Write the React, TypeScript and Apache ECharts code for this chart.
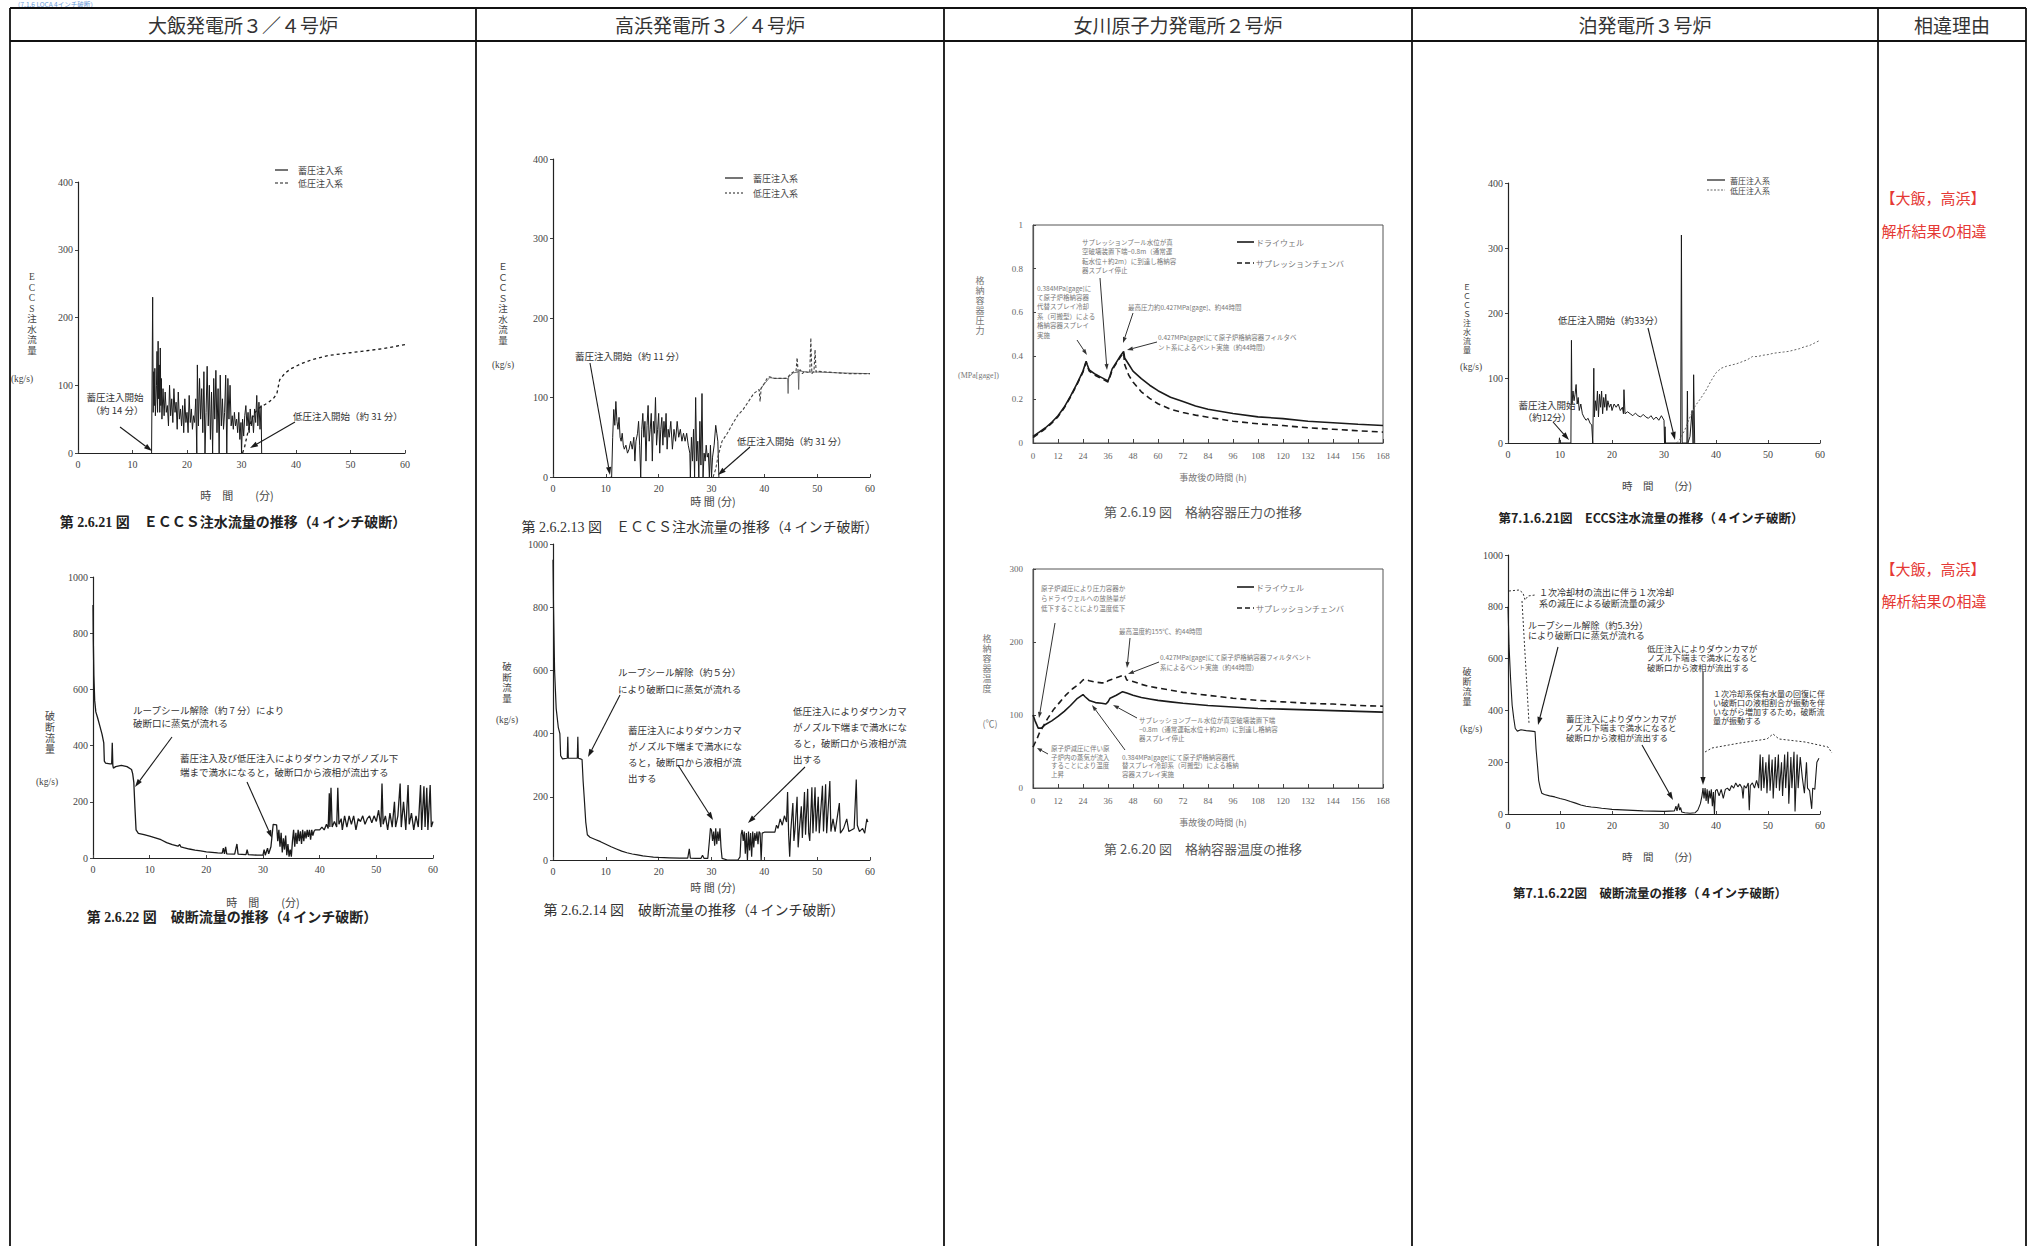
import React, { useEffect, useRef } from "react";
import * as echarts from "echarts";

// ---------- headers / texts ----------
const plantHeaders = ["大飯発電所３／４号炉", "高浜発電所３／４号炉", "女川原子力発電所２号炉", "泊発電所３号炉", "相違理由"];
const reasonTitle = "【大飯，高浜】";
const reasonText = "解析結果の相違";
const pageNote = "（7.1.6 LOCA 4インチ破断）";

// ---------- axis ranges ----------
const minuteTicks = { min: 0, max: 60, interval: 10 };
const eccsTicks = { min: 0, max: 400, interval: 100 };
const breakTicks = { min: 0, max: 1000, interval: 200 };
const hourTicks = { min: 0, max: 168, interval: 12 };
const pressureTicks = { min: 0, max: 1, interval: 0.2 };
const tempTicks = { min: 0, max: 300, interval: 100 };

// ---------- Ohi ECCS (min, kg/s) ----------
const ohiEccsAccumulator: [number, number][] = [
  [13.5, 0], [13.6, 0], [13.7, 230], [13.8, 60], [13.9, 120], [14.0, 70], [14.1, 125], [14.2, 55], [14.4, 100], [14.5, 150], [14.6, 60], [14.7, 165], [14.8, 80], [14.9, 130], [15.0, 60], [15.1, 155], [15.2, 70], [15.3, 110], [15.4, 50], [15.6, 95], [15.8, 55], [16.0, 90], [16.2, 60], [16.4, 70], [16.6, 40], [16.8, 100], [17.0, 55], [17.2, 80], [17.4, 45], [17.6, 95], [17.8, 60], [18.0, 75], [18.2, 35], [18.4, 90], [18.6, 50], [18.8, 65], [19.0, 40], [19.2, 70], [19.4, 30], [19.6, 80], [19.8, 45], [20.0, 60], [20.2, 30], [20.4, 85], [20.6, 45], [20.8, 65], [21.0, 35], [21.2, 55], [21.4, 45], [21.6, 80], [21.8, 0], [21.9, 130], [22.1, 40], [22.3, 110], [22.5, 50], [22.7, 95], [22.9, 30], [23.1, 120], [23.3, 0], [23.5, 60], [23.7, 128], [23.9, 40], [24.1, 100], [24.3, 20], [24.5, 90], [24.7, 0], [24.9, 110], [25.1, 50], [25.3, 122], [25.5, 30], [25.7, 95], [25.9, 0], [26.1, 115], [26.3, 40], [26.5, 80], [26.7, 35], [26.9, 60], [27.1, 115], [27.3, 0], [27.5, 110], [27.7, 50], [27.9, 100], [28.1, 40], [28.3, 55], [28.5, 35], [28.7, 60], [28.9, 40], [29.1, 50], [29.3, 30], [29.5, 60], [29.7, 20], [29.9, 45], [30.0, 0], [30.2, 50], [30.4, 25], [30.6, 55], [30.8, 70], [31.0, 40], [31.2, 60], [31.4, 30], [31.6, 65], [31.8, 40], [32.0, 55], [32.2, 30], [32.4, 65], [32.6, 45], [32.8, 85], [33.0, 40], [33.2, 75], [33.4, 35], [33.6, 70], [33.7, 0], [33.75, 0],
];
const ohiEccsLowPressure: [number, number][] = [
  [30.2, 0], [30.6, 10], [31, 25], [31.5, 40], [32, 52], [32.5, 60], [33, 65], [33.5, 68], [34, 70], [35, 75], [36, 82], [36.5, 88], [36.8, 100], [37, 108], [37.5, 113], [38, 118], [39, 124], [40, 128], [41, 132], [42, 135], [43, 138], [44, 140], [45, 142], [46, 144], [48, 146], [50, 148], [52, 150], [54, 152], [56, 154], [58, 157], [60, 160],
];

// ---------- Ohi break flow ----------
const ohiBreakFlow: [number, number][] = [
  [0, 900], [0.05, 780], [0.15, 650], [0.3, 560], [0.5, 520], [0.8, 500], [1.2, 470], [1.6, 440], [1.9, 410], [2.0, 345], [2.2, 338], [3.0, 335], [3.3, 335], [3.4, 410], [3.5, 330], [3.6, 320], [4, 325], [5, 330], [6, 325], [6.8, 315], [7.0, 300], [7.2, 270], [7.4, 180], [7.6, 100], [8, 88], [9, 83], [10, 78], [11, 72], [12, 65], [13, 55], [14, 48], [15, 42], [15.3, 48], [15.5, 40], [16, 37], [17, 32], [18, 28], [19, 25], [20, 22], [21, 20], [22, 18], [22.8, 17], [23, 35], [23.2, 15], [23.4, 40], [23.6, 15], [25, 14], [25.4, 50], [25.6, 14], [27, 12], [27.2, 30], [27.4, 12], [29, 10], [30, 10], [30.2, 30], [30.4, 10], [30.8, 35], [31, 15], [31.4, 40], [31.6, 80], [31.8, 120], [32.4, 118], [32.6, 60], [32.8, 100], [33, 40], [33.2, 90], [33.4, 20], [33.6, 70], [33.8, 30], [34, 80], [34.2, 10], [34.4, 50], [34.6, 5], [34.8, 30], [35, 5], [35.2, 60], [35.4, 100], [35.6, 40], [35.8, 90], [36, 50], [36.2, 100], [36.4, 60], [36.6, 95], [36.8, 50], [37, 100], [37.2, 60], [37.4, 95], [37.6, 70], [37.8, 100], [38, 75], [38.2, 100], [38.4, 65], [38.6, 100], [38.8, 80], [39, 95], [39.2, 100], [40, 100], [40.4, 110], [40.8, 100], [41.2, 120], [41.5, 105], [41.7, 230], [41.8, 110], [42, 250], [42.2, 110], [42.6, 130], [43, 110], [43.2, 250], [43.4, 120], [43.8, 140], [44, 100], [44.4, 150], [44.8, 110], [45.2, 150], [45.6, 120], [46, 150], [46.4, 100], [46.8, 140], [47.2, 130], [47.6, 150], [48, 120], [48.4, 140], [48.8, 150], [49.2, 125], [49.6, 150], [50, 130], [50.4, 170], [50.8, 110], [51, 265], [51.2, 120], [51.6, 150], [52, 100], [52.4, 160], [52.8, 110], [53.2, 200], [53.4, 110], [53.8, 150], [54.2, 265], [54.4, 110], [54.8, 200], [55.2, 100], [55.6, 260], [55.8, 120], [56.2, 160], [56.6, 100], [57, 150], [57.4, 110], [57.8, 260], [58, 100], [58.4, 255], [58.6, 110], [58.9, 250], [59.1, 100], [59.5, 260], [59.7, 110], [60, 130],
];

// ---------- Takahama ECCS ----------
const takahamaEccsAccumulator: [number, number][] = [
  [10.9, 0], [11.1, 0], [11.3, 50], [11.5, 85], [11.7, 65], [11.9, 95], [12.1, 70], [12.3, 60], [12.5, 75], [12.7, 50], [12.9, 45], [13.1, 55], [13.3, 40], [13.5, 35], [13.8, 40], [14.1, 30], [14.4, 35], [14.7, 45], [15, 35], [15.3, 50], [15.5, 20], [15.7, 45], [16, 55], [16.2, 70], [16.4, 40], [16.6, 0], [16.8, 60], [17, 80], [17.2, 50], [17.4, 70], [17.6, 20], [17.8, 65], [18, 90], [18.2, 45], [18.4, 60], [18.6, 80], [18.8, 20], [19, 70], [19.2, 55], [19.4, 100], [19.6, 40], [19.8, 60], [20, 80], [20.2, 30], [20.4, 60], [20.6, 75], [20.8, 40], [21, 70], [21.2, 50], [21.4, 80], [21.6, 35], [21.8, 60], [22, 50], [22.3, 70], [22.6, 35], [22.9, 60], [23.2, 45], [23.5, 70], [23.8, 50], [24.1, 60], [24.4, 45], [24.7, 55], [25, 45], [25.3, 55], [25.6, 40], [25.9, 30], [26.0, 0], [26.2, 50], [26.4, 20], [26.6, 60], [26.8, 0], [27, 100], [27.2, 20], [27.4, 45], [27.6, 0], [27.8, 70], [28, 15], [28.2, 105], [28.4, 0], [28.6, 30], [28.8, 20], [29, 40], [29.2, 25], [29.4, 30], [29.6, 0], [29.8, 40], [30, 0], [30.2, 25], [30.5, 40], [30.8, 65], [31, 55], [31.2, 45], [31.4, 0],
];
const takahamaEccsAccumulatorLate: [number, number][] = [
  [39, 108], [40, 117], [41, 125], [42, 124], [44.4, 124], [44.5, 105], [44.6, 126], [45.5, 131], [46.4, 132], [46.5, 110], [46.6, 134], [47, 133], [48, 132], [50, 132], [54, 131], [60, 130],
];
const takahamaEccsLowPressure: [number, number][] = [
  [30.3, 0], [30.8, 10], [31.2, 25], [31.6, 35], [32, 45], [33, 55], [34, 67], [35, 78], [36, 85], [37, 95], [38, 105], [39, 110], [39.2, 95], [39.4, 112], [40, 118], [40.6, 125], [41, 126], [42, 124], [43, 124], [44, 124], [44.5, 126], [45, 130], [45.5, 132], [46, 133], [46.2, 150], [46.4, 132], [46.8, 135], [47.2, 130], [47.6, 133], [48, 132], [48.6, 131], [48.8, 175], [49, 130], [49.4, 133], [49.6, 160], [49.8, 132], [50, 133], [52, 132], [54, 131], [56, 130], [58, 130], [60, 130],
];

// ---------- Takahama break flow ----------
const takahamaBreakFlow: [number, number][] = [
  [0, 950], [0.1, 800], [0.3, 600], [0.6, 480], [1.0, 420], [1.3, 400], [1.45, 330], [1.8, 320], [2.7, 322], [2.8, 390], [2.9, 322], [4.6, 322], [4.7, 390], [4.8, 322], [5.2, 320], [5.5, 318], [5.7, 250], [5.9, 200], [6.2, 120], [6.5, 80], [7, 72], [8, 65], [9, 58], [10, 50], [11, 42], [12, 35], [13, 28], [14, 23], [15, 19], [16, 16], [17, 13], [18, 11], [19, 9], [20, 8], [22, 7], [24, 6], [25.5, 6], [25.8, 35], [26, 6], [27, 5], [28, 5], [28.3, 15], [28.6, 5], [29.3, 5], [29.6, 60], [29.8, 100], [30, 95], [30.2, 60], [30.4, 90], [30.6, 45], [30.8, 100], [31, 50], [31.2, 90], [31.4, 60], [31.6, 100], [31.8, 40], [32, 5], [33, 0], [35, 0], [35.4, 10], [35.6, 80], [35.8, 95], [36, 60], [36.2, 90], [36.4, 20], [36.6, 85], [36.8, 0], [37, 90], [37.2, 30], [37.4, 85], [37.6, 10], [37.8, 90], [38, 40], [38.2, 85], [38.4, 60], [38.6, 90], [38.8, 50], [39, 90], [39.2, 85], [39.4, 0], [39.6, 85], [40, 88], [41, 88], [42, 88], [42.3, 110], [42.6, 100], [43, 130], [43.4, 110], [43.8, 140], [44.2, 120], [44.4, 215], [44.6, 80], [44.8, 10], [45, 90], [45.4, 180], [45.6, 60], [45.8, 95], [46.2, 200], [46.4, 40], [46.6, 90], [47, 170], [47.2, 70], [47.6, 215], [47.8, 80], [48.2, 225], [48.4, 85], [48.6, 60], [49, 230], [49.2, 85], [49.6, 230], [49.8, 90], [50.2, 200], [50.4, 85], [51, 235], [51.2, 90], [51.6, 240], [51.8, 85], [52.4, 250], [52.6, 90], [53, 130], [53.4, 90], [54.2, 180], [54.4, 85], [55, 100], [55.6, 130], [56, 90], [57, 100], [57.4, 255], [57.6, 110], [58, 90], [58.6, 100], [59, 85], [59.4, 130], [59.6, 120],
];

// ---------- Onagawa (hours) ----------
const onagawaPressureDrywell: [number, number][] = [
  [0, 0.03], [3, 0.05], [6, 0.07], [9, 0.095], [12, 0.125], [15, 0.165], [18, 0.215], [21, 0.27], [24, 0.33], [25.5, 0.375], [26, 0.36], [27, 0.335], [30, 0.315], [33, 0.3], [36, 0.285], [37, 0.31], [38, 0.34], [40, 0.37], [42, 0.4], [43.5, 0.42], [44, 0.39], [46, 0.36], [48, 0.33], [52, 0.295], [56, 0.265], [60, 0.24], [66, 0.21], [72, 0.19], [78, 0.17], [84, 0.155], [96, 0.135], [108, 0.12], [120, 0.112], [132, 0.1], [144, 0.093], [156, 0.086], [168, 0.08],
];
const onagawaPressureSuppression: [number, number][] = [
  [0, 0.025], [3, 0.045], [6, 0.066], [9, 0.091], [12, 0.121], [15, 0.161], [18, 0.211], [21, 0.266], [24, 0.326], [25.5, 0.37], [26, 0.355], [27, 0.33], [30, 0.31], [33, 0.295], [36, 0.28], [37, 0.305], [38, 0.335], [40, 0.365], [42, 0.395], [43.5, 0.415], [44, 0.36], [46, 0.31], [48, 0.28], [52, 0.235], [56, 0.205], [60, 0.18], [66, 0.155], [72, 0.14], [78, 0.128], [84, 0.118], [96, 0.1], [108, 0.088], [120, 0.08], [132, 0.07], [144, 0.063], [156, 0.056], [168, 0.05],
];
const onagawaTempDrywell: [number, number][] = [
  [0, 100], [1, 92], [2.5, 82], [4, 82], [6, 87], [9, 92], [12, 98], [15, 105], [18, 113], [21, 122], [24, 128], [25, 125], [27, 120], [30, 117], [33, 116], [35, 115], [36, 118], [37, 123], [40, 127], [43, 132], [45, 130], [48, 127], [52, 124], [56, 122], [60, 120], [66, 118], [72, 116], [84, 113], [96, 111], [108, 109], [120, 108], [132, 107], [144, 106], [156, 105], [168, 104],
];
const onagawaTempSuppression: [number, number][] = [
  [0, 56], [1, 62], [2, 68], [3, 75], [5, 85], [7, 95], [10, 108], [13, 118], [16, 128], [19, 136], [22, 142], [24, 148], [25, 149], [27, 147], [30, 145], [33, 144], [35, 144], [36, 147], [38, 149], [41, 152], [44, 155], [45, 148], [48, 146], [52, 142], [56, 139], [60, 137], [66, 134], [72, 131], [84, 127], [96, 123], [108, 120], [120, 118], [132, 116], [144, 115], [156, 113], [168, 112],
];

// ---------- Tomari ECCS ----------
const tomariEccsAccumulator: [number, number][] = [
  [9.8, 0], [9.9, 8], [10, 0], [12.1, 0], [12.2, 158], [12.3, 60], [12.5, 80], [12.7, 65], [12.9, 75], [13.1, 90], [13.3, 60], [13.5, 70], [13.7, 50], [14, 60], [14.3, 45], [14.6, 40], [15, 35], [15.4, 38], [15.8, 30], [16.1, 28], [16.3, 0], [16.4, 0], [16.5, 115], [16.6, 40], [16.8, 65], [17, 50], [17.2, 80], [17.4, 40], [17.6, 75], [17.8, 55], [18, 80], [18.2, 45], [18.4, 70], [18.6, 55], [18.8, 75], [19, 50], [19.2, 65], [19.5, 55], [19.8, 60], [20, 50], [20.4, 60], [20.8, 55], [21.2, 60], [21.6, 50], [22, 55], [22.2, 45], [22.3, 82], [22.5, 45], [23, 48], [23.5, 45], [24, 42], [24.5, 46], [25, 42], [25.5, 40], [26, 44], [26.5, 40], [27, 38], [27.5, 42], [28, 36], [28.5, 40], [29, 35], [29.5, 42], [30, 35], [30.1, 0], [30.2, 25], [30.3, 0], [33.2, 0], [33.35, 320], [33.5, 0], [34.4, 0], [34.5, 80], [34.6, 0], [35, 10], [35.4, 50], [35.6, 0], [35.7, 105], [35.9, 0],
];
const tomariEccsLowPressure: [number, number][] = [
  [32.4, 0], [33, 5], [34, 20], [35, 40], [36, 57], [37, 68], [38, 80], [39, 95], [40, 108], [41, 115], [42, 118], [43, 120], [44, 122], [45, 125], [46, 128], [47, 133], [48, 133], [49, 135], [50, 136], [51, 138], [52, 139], [53, 140], [54, 141], [55, 143], [56, 145], [57, 148], [58, 150], [59, 154], [60, 158],
];

// ---------- Tomari break flow ----------
const tomariBreakFlow: [number, number][] = [
  [0, 800], [0.2, 650], [0.5, 520], [0.8, 420], [1.1, 370], [1.4, 330], [1.8, 320], [2.5, 325], [3.5, 322], [4.5, 320], [5.2, 318], [5.4, 250], [5.7, 180], [5.9, 130], [6.2, 100], [6.5, 80], [7, 75], [8, 70], [9, 66], [10, 60], [11, 55], [12, 48], [13, 42], [14, 35], [15, 30], [16, 27], [17, 25], [18, 22], [19, 20], [20, 18], [22, 16], [24, 14], [26, 12], [28, 11], [30, 10], [32, 12], [32.3, 30], [32.5, 12], [32.8, 40], [33, 15], [33.2, 25], [33.4, 8], [34, 5], [35, 3], [36, 5], [36.5, 15], [37, 40], [37.3, 70], [37.5, 100], [37.7, 60], [37.9, 100], [38.1, 50], [38.3, 95], [38.5, 40], [38.7, 90], [38.9, 60], [39.1, 95], [39.3, 30], [39.5, 85], [39.7, 0], [39.9, 90], [40.2, 95], [40.6, 70], [41, 95], [41.4, 60], [41.8, 95], [42.2, 100], [42.6, 90], [43, 110], [43.4, 100], [43.8, 120], [44.2, 105], [44.6, 115], [45, 100], [45.2, 60], [45.4, 110], [45.8, 100], [46.2, 120], [46.4, 15], [46.6, 110], [47, 120], [47.4, 100], [47.8, 130], [48.2, 100], [48.5, 230], [48.7, 90], [49, 220], [49.2, 100], [49.6, 200], [49.8, 80], [50.2, 230], [50.4, 90], [50.8, 210], [51, 60], [51.4, 220], [51.6, 100], [52, 230], [52.2, 90], [52.6, 200], [52.8, 70], [53.2, 230], [53.4, 100], [53.8, 240], [54, 40], [54.4, 220], [54.6, 100], [55, 240], [55.2, 10], [55.6, 230], [55.8, 100], [56.2, 220], [56.6, 140], [57, 80], [57.4, 200], [57.6, 100], [58, 90], [58.4, 20], [58.6, 100], [59, 95], [59.4, 200], [59.8, 215],
];

// ---------- styling helpers ----------
const SERIF = "'Liberation Serif','DejaVu Serif','Noto Sans CJK JP',serif";
const CJK = "'Noto Sans CJK JP','Noto Sans',sans-serif";
const INK = "#1a1a1a";

function txt(x: number, y: number, text: string, o: any = {}) {
  return {
    type: "text",
    x,
    y,
    z: 10,
    style: {
      text,
      fill: o.fill || "#333",
      fontSize: o.size || 10,
      fontFamily: o.family || CJK,
      fontWeight: o.weight || "normal",
      align: o.align || "left",
      verticalAlign: o.valign || "middle",
      lineHeight: o.lh || undefined,
    },
  };
}
function arrow(x1: number, y1: number, x2: number, y2: number, color = INK, lw = 1.1, head = 8, hw = 2.6) {
  const a = Math.atan2(y2 - y1, x2 - x1);
  const bx = x2 - head * Math.cos(a);
  const by = y2 - head * Math.sin(a);
  const px = -Math.sin(a) * hw;
  const py = Math.cos(a) * hw;
  return [
    { type: "line", z: 10, shape: { x1, y1, x2: bx, y2: by }, style: { stroke: color, lineWidth: lw } },
    { type: "polygon", z: 10, shape: { points: [[x2, y2], [bx + px, by + py], [bx - px, by - py]] }, style: { fill: color } },
  ];
}
function hline(x1: number, x2: number, y: number, lw = 1.6) {
  return { type: "line", z: 10, shape: { x1, y1: y, x2, y2: y }, style: { stroke: "#111", lineWidth: lw } };
}
function vline(x: number, y1: number, y2: number, lw = 1.6) {
  return { type: "line", z: 10, shape: { x1: x, y1, x2: x, y2 }, style: { stroke: "#111", lineWidth: lw } };
}
function legendLine(x1: number, x2: number, y: number, dash: number[] | null, color = INK, lw = 1.2) {
  return { type: "line", z: 10, shape: { x1, y1: y, x2, y2: y }, style: { stroke: color, lineWidth: lw, lineDash: dash || undefined } };
}
function dotted(points: number[][], color = "#333") {
  return { type: "polyline", z: 10, shape: { points }, style: { stroke: color, lineWidth: 1, lineDash: [2, 2], fill: null } };
}

type Box = { left: number; top: number; width: number; height: number; framed?: boolean };
const boxes: Box[] = [
  { left: 78, top: 182, width: 327, height: 271 },
  { left: 93, top: 577, width: 340, height: 281 },
  { left: 553, top: 159, width: 317, height: 318 },
  { left: 553, top: 544, width: 317, height: 316 },
  { left: 1033, top: 225, width: 350, height: 218, framed: true },
  { left: 1033, top: 569, width: 350, height: 219, framed: true },
  { left: 1508, top: 183, width: 312, height: 260 },
  { left: 1508, top: 555, width: 312, height: 259 },
];
const xRanges = [minuteTicks, minuteTicks, minuteTicks, minuteTicks, hourTicks, hourTicks, minuteTicks, minuteTicks];
const yRanges = [eccsTicks, breakTicks, eccsTicks, breakTicks, pressureTicks, tempTicks, eccsTicks, breakTicks];

const plain = (v: number) => String(Math.round(v * 1000) / 1000);

function buildOption() {
  const grid = boxes.map((b) => ({
    left: b.left,
    top: b.top,
    width: b.width,
    height: b.height,
    show: !!b.framed,
    borderColor: "#555",
    borderWidth: 1,
    backgroundColor: "transparent",
    containLabel: false,
  }));
  const xAxis = boxes.map((b, i) => ({
    gridIndex: i,
    type: "value",
    ...xRanges[i],
    axisLine: { show: true, onZero: false, lineStyle: { color: b.framed ? "#555" : "#222", width: 1.2 } },
    axisTick: { show: true, inside: true, length: b.framed ? 4 : 3, lineStyle: { color: "#444" } },
    axisLabel: { fontSize: b.framed ? 9 : 10, color: b.framed ? "#666" : "#444", fontFamily: SERIF, margin: b.framed ? 8 : 6, formatter: plain },
    splitLine: { show: false },
  }));
  const yAxis = boxes.map((b, i) => ({
    gridIndex: i,
    type: "value",
    ...yRanges[i],
    axisLine: { show: true, onZero: false, lineStyle: { color: b.framed ? "#555" : "#222", width: 1.2 } },
    axisTick: { show: true, inside: !!b.framed, length: 3, lineStyle: { color: "#444" } },
    axisLabel: { fontSize: b.framed ? 9 : 10, color: b.framed ? "#666" : "#444", fontFamily: SERIF, margin: b.framed ? 10 : 5, formatter: plain },
    splitLine: { show: false },
  }));

  const line = (name: string, idx: number, data: [number, number][], dash: any, width = 1, color = INK) => ({
    name,
    type: "line",
    xAxisIndex: idx,
    yAxisIndex: idx,
    data,
    showSymbol: false,
    symbol: "none",
    silent: true,
    clip: true,
    lineStyle: { color, width, type: dash || "solid" },
  });

  const series = [
    line("蓄圧注入系", 0, ohiEccsAccumulator, null, 1),
    line("低圧注入系", 0, ohiEccsLowPressure, [3, 3], 1.3),
    line("破断流量", 1, ohiBreakFlow, null, 1.3),
    line("蓄圧注入系", 2, takahamaEccsAccumulator, null, 1),
    line("蓄圧注入系", 2, takahamaEccsAccumulatorLate, null, 0.8, "#555"),
    line("低圧注入系", 2, takahamaEccsLowPressure, [3, 2], 1.1, "#444"),
    line("破断流量", 3, takahamaBreakFlow, null, 1.2),
    line("ドライウェル", 4, onagawaPressureDrywell, null, 1.6),
    line("サプレッションチェンバ", 4, onagawaPressureSuppression, [6, 4], 1.6),
    line("ドライウェル", 5, onagawaTempDrywell, null, 1.6),
    line("サプレッションチェンバ", 5, onagawaTempSuppression, [6, 4], 1.6),
    line("蓄圧注入系", 6, tomariEccsAccumulator, null, 1),
    line("低圧注入系", 6, tomariEccsLowPressure, [2, 2], 1, "#666"),
    line("破断流量", 7, tomariBreakFlow, null, 1.1),
  ];

  const g: any[] = [];
  // ---- table ----
  const colX = [10, 476, 944, 1412, 1878, 2026];
  g.push(txt(14, 3.5, pageNote, { size: 6.5, fill: "#6a9ad8" }));
  g.push(hline(10, 2026, 8, 1.8));
  g.push(hline(10, 2026, 41, 2.2));
  colX.forEach((x) => g.push(vline(x, 8, 1246, 1.8)));
  plantHeaders.forEach((h, i) => {
    g.push(txt((colX[i] + colX[i + 1]) / 2, 24, h, { size: 19, fill: "#333", align: "center" }));
  });
  // reasons (red)
  [[197, 230], [568, 600]].forEach(([y1, y2]) => {
    g.push(txt(1933, y1, reasonTitle, { size: 15, fill: "#e53935", align: "center" }));
    g.push(txt(1934, y2, reasonText, { size: 15, fill: "#e53935", align: "center" }));
  });

  // ---- chart A: Ohi ECCS ----
  g.push(txt(32, 314, "E\nC\nC\nS\n注\n水\n流\n量", { size: 9.5, lh: 10.5, align: "center", family: SERIF, fill: "#444" }));
  g.push(txt(22, 379, "(kg/s)", { size: 9.5, align: "center", family: SERIF, fill: "#444" }));
  g.push(txt(237, 495, "時　間　　(分)", { size: 11, align: "center", fill: "#444" }));
  g.push(txt(233, 522, "第 2.6.21 図　ＥＣＣＳ注水流量の推移（4 インチ破断）", { size: 14, align: "center", weight: "bold", fill: "#222", family: SERIF }));
  g.push(legendLine(275, 288, 170, null));
  g.push(txt(298, 170, "蓄圧注入系", { size: 9, fill: "#444" }));
  g.push(legendLine(275, 288, 183, [3, 2]));
  g.push(txt(298, 183, "低圧注入系", { size: 9, fill: "#444" }));
  g.push(txt(115, 397, "蓄圧注入開始", { size: 9.5, align: "center", fill: "#333" }));
  g.push(txt(117, 410, "（約 14 分）", { size: 9.5, align: "center", fill: "#333" }));
  g.push(...arrow(120, 427, 152, 451));
  g.push(txt(293, 416, "低圧注入開始（約 31 分）", { size: 9.5, fill: "#333" }));
  g.push(...arrow(295, 422, 250, 448));

  // ---- chart B: Ohi break ----
  g.push(txt(50, 732, "破\n断\n流\n量", { size: 10, lh: 11, align: "center", fill: "#444" }));
  g.push(txt(47, 782, "(kg/s)", { size: 9.5, align: "center", family: SERIF, fill: "#444" }));
  g.push(txt(263, 902, "時　間　　(分)", { size: 11, align: "center", fill: "#444" }));
  g.push(txt(232, 917, "第 2.6.22 図　破断流量の推移（4 インチ破断）", { size: 14, align: "center", weight: "bold", fill: "#222", family: SERIF }));
  g.push(txt(133, 710, "ループシール解除（約 7 分）により", { size: 9.5, fill: "#333" }));
  g.push(txt(133, 723, "破断口に蒸気が流れる", { size: 9.5, fill: "#333" }));
  g.push(...arrow(172, 737, 135, 787));
  g.push(txt(180, 758, "蓄圧注入及び低圧注入によりダウンカマがノズル下", { size: 9.5, fill: "#333" }));
  g.push(txt(180, 772, "端まで満水になると，破断口から液相が流出する", { size: 9.5, fill: "#333" }));
  g.push(...arrow(247, 782, 272, 838));

  // ---- chart C: Takahama ECCS ----
  g.push(txt(503, 303, "Ｅ\nＣ\nＣ\nＳ\n注\n水\n流\n量", { size: 9.5, lh: 10.5, align: "center", fill: "#444" }));
  g.push(txt(503, 365, "(kg/s)", { size: 9.5, align: "center", family: SERIF, fill: "#444" }));
  g.push(txt(713, 501, "時 間 (分)", { size: 11, align: "center", fill: "#444" }));
  g.push(txt(700, 527, "第 2.6.2.13 図　ＥＣＣＳ注水流量の推移（4 インチ破断）", { size: 14, align: "center", fill: "#333", family: SERIF }));
  g.push(legendLine(725, 743, 178, null));
  g.push(txt(753, 178, "蓄圧注入系", { size: 9, fill: "#444" }));
  g.push(legendLine(725, 743, 193, [2, 2]));
  g.push(txt(753, 193, "低圧注入系", { size: 9, fill: "#444" }));
  g.push(txt(575, 356, "蓄圧注入開始（約 11 分）", { size: 9.5, fill: "#333" }));
  g.push(...arrow(590, 363, 610, 475));
  g.push(txt(737, 441, "低圧注入開始（約 31 分）", { size: 9.5, fill: "#333" }));
  g.push(...arrow(750, 447, 718, 475));

  // ---- chart D: Takahama break ----
  g.push(txt(507, 682, "破\n断\n流\n量", { size: 9.5, lh: 10.5, align: "center", fill: "#444" }));
  g.push(txt(507, 720, "(kg/s)", { size: 9.5, align: "center", family: SERIF, fill: "#444" }));
  g.push(txt(713, 887, "時 間 (分)", { size: 11, align: "center", fill: "#444" }));
  g.push(txt(694, 910, "第 2.6.2.14 図　破断流量の推移（4 インチ破断）", { size: 14, align: "center", fill: "#333", family: SERIF }));
  g.push(txt(618, 672, "ループシール解除（約５分）", { size: 9.5, fill: "#333" }));
  g.push(txt(618, 689, "により破断口に蒸気が流れる", { size: 9.5, fill: "#333" }));
  g.push(...arrow(620, 695, 588, 757));
  g.push(txt(628, 754, "蓄圧注入によりダウンカマ\nがノズル下端まで満水にな\nると，破断口から液相が流\n出する", { size: 9.5, lh: 16, fill: "#333" }));
  g.push(...arrow(678, 765, 713, 820));
  g.push(txt(793, 735, "低圧注入によりダウンカマ\nがノズル下端まで満水にな\nると，破断口から液相が流\n出する", { size: 9.5, lh: 16, fill: "#333" }));
  g.push(...arrow(805, 767, 748, 823));

  // ---- chart E: Onagawa pressure ----
  const OG = "#777";
  g.push(txt(980, 305, "格\n納\n容\n器\n圧\n力", { size: 9, lh: 10, align: "center", fill: OG }));
  g.push(txt(958, 375, "(MPa[gage])", { size: 8, fill: OG, family: SERIF }));
  g.push(txt(1213, 477, "事故後の時間 (h)", { size: 9, align: "center", fill: OG }));
  g.push(txt(1203, 511, "第 2.6.19 図　格納容器圧力の推移", { size: 13, align: "center", fill: "#555" }));
  g.push(legendLine(1237, 1254, 242, null, INK, 1.6));
  g.push(txt(1256, 242, "ドライウェル", { size: 8, fill: OG }));
  g.push(legendLine(1237, 1254, 263, [5, 3], INK, 1.6));
  g.push(txt(1256, 263, "サプレッションチェンバ", { size: 8, fill: OG }));
  g.push(txt(1082, 256, "サプレッションプール水位が真\n空破壊装置下端−0.8m（通常運\n転水位＋約2m）に到達し格納容\n器スプレイ停止", { size: 6.5, lh: 9.6, fill: OG }));
  g.push(...arrow(1100, 278, 1107, 370, "#333", 1, 6, 2));
  g.push(txt(1037, 311, "0.384MPa[gage]に\nて原子炉格納容器\n代替スプレイ冷却\n系（可搬型）による\n格納容器スプレイ\n実施", { size: 6.5, lh: 9.4, fill: OG }));
  g.push(...arrow(1077, 340, 1087, 355, "#333", 1, 6, 2));
  g.push(txt(1128, 307, "最高圧力約0.427MPa[gage]、約44時間", { size: 6.5, fill: OG }));
  g.push(...arrow(1133, 313, 1123, 343, "#333", 1, 6, 2));
  g.push(txt(1158, 342, "0.427MPa[gage]にて原子炉格納容器フィルタベ\nント系によるベント実施（約44時間）", { size: 6.5, lh: 9.5, fill: OG }));
  g.push(...arrow(1157, 342, 1127, 350, "#333", 1, 6, 2));

  // ---- chart F: Onagawa temperature ----
  g.push(txt(987, 663, "格\n納\n容\n器\n温\n度", { size: 9, lh: 10, align: "center", fill: OG }));
  g.push(txt(990, 723, "(℃)", { size: 9, align: "center", fill: OG }));
  g.push(txt(1213, 822, "事故後の時間 (h)", { size: 9, align: "center", fill: OG }));
  g.push(txt(1203, 848, "第 2.6.20 図　格納容器温度の推移", { size: 13, align: "center", fill: "#555" }));
  g.push(legendLine(1237, 1254, 587, null, INK, 1.6));
  g.push(txt(1256, 587, "ドライウェル", { size: 8, fill: OG }));
  g.push(legendLine(1237, 1254, 608, [5, 3], INK, 1.6));
  g.push(txt(1256, 608, "サプレッションチェンバ", { size: 8, fill: OG }));
  g.push(txt(1041, 598, "原子炉減圧により圧力容器か\nらドライウェルへの放熱量が\n低下することにより温度低下", { size: 6.5, lh: 9.6, fill: OG }));
  g.push(...arrow(1055, 623, 1039, 718, "#333", 1, 6, 2));
  g.push(txt(1119, 631, "最高温度約155℃、約44時間", { size: 6.5, fill: OG }));
  g.push(...arrow(1130, 638, 1127, 668, "#333", 1, 6, 2));
  g.push(txt(1160, 662, "0.427MPa[gage]にて原子炉格納容器フィルタベント\n系によるベント実施（約44時間）", { size: 6.5, lh: 10, fill: OG }));
  g.push(...arrow(1159, 662, 1128, 674, "#333", 1, 6, 2));
  g.push(txt(1139, 729, "サプレッションプール水位が真空破壊装置下端\n−0.8m（通常運転水位＋約2m）に到達し格納容\n器スプレイ停止", { size: 6.5, lh: 9, fill: OG }));
  g.push(...arrow(1137, 718, 1113, 705, "#333", 1, 6, 2));
  g.push(txt(1122, 765, "0.384MPa[gage]にて原子炉格納容器代\n替スプレイ冷却系（可搬型）による格納\n容器スプレイ実施", { size: 6.5, lh: 8.5, fill: OG }));
  g.push(...arrow(1125, 750, 1092, 705, "#333", 1, 6, 2));
  g.push(txt(1051, 761, "原子炉減圧に伴い原\n子炉内の蒸気が流入\nすることにより温度\n上昇", { size: 6.5, lh: 8.5, fill: OG }));
  g.push(...arrow(1048, 754, 1037, 748, "#333", 1, 5, 2));

  // ---- chart G: Tomari ECCS ----
  g.push(txt(1467, 318, "Ｅ\nＣ\nＣ\nＳ\n注\n水\n流\n量", { size: 8, lh: 9, align: "center", fill: "#444" }));
  g.push(txt(1471, 367, "(kg/s)", { size: 9.5, align: "center", family: SERIF, fill: "#444" }));
  g.push(txt(1657, 485, "時　間　　(分)", { size: 10.5, align: "center", fill: "#444" }));
  g.push(txt(1651, 517, "第7.1.6.21図　ECCS注水流量の推移（４インチ破断）", { size: 12.5, align: "center", weight: "bold", fill: "#222" }));
  g.push(legendLine(1707, 1725, 180, null));
  g.push(txt(1730, 180, "蓄圧注入系", { size: 8, fill: "#444" }));
  g.push(legendLine(1707, 1725, 190, [2, 1.5], "#666"));
  g.push(txt(1730, 190, "低圧注入系", { size: 8, fill: "#444" }));
  g.push(txt(1558, 320, "低圧注入開始（約33分）", { size: 9.5, fill: "#333" }));
  g.push(...arrow(1648, 328, 1675, 440));
  g.push(txt(1547, 405, "蓄圧注入開始", { size: 9.5, align: "center", fill: "#333" }));
  g.push(txt(1547, 417, "（約12分）", { size: 9.5, align: "center", fill: "#333" }));
  g.push(...arrow(1553, 422, 1569, 440));

  // ---- chart H: Tomari break ----
  g.push(txt(1467, 686, "破\n断\n流\n量", { size: 9, lh: 10, align: "center", fill: "#444" }));
  g.push(txt(1471, 729, "(kg/s)", { size: 9.5, align: "center", family: SERIF, fill: "#444" }));
  g.push(txt(1657, 856, "時　間　　(分)", { size: 10.5, align: "center", fill: "#444" }));
  g.push(txt(1650, 892, "第7.1.6.22図　破断流量の推移（４インチ破断）", { size: 12.5, align: "center", weight: "bold", fill: "#222" }));
  g.push(txt(1539, 598, "１次冷却材の流出に伴う１次冷却\n系の減圧による破断流量の減少", { size: 9, lh: 10.5, fill: "#333" }));
  g.push(dotted([[1509, 591], [1519, 590], [1523, 593], [1525, 600], [1528, 596], [1535, 595]]));
  g.push(dotted([[1522, 601], [1529, 723]]));
  g.push(txt(1528, 630, "ループシール解除（約5.3分）\nにより破断口に蒸気が流れる", { size: 9, lh: 10, fill: "#333" }));
  g.push(...arrow(1558, 647, 1538, 725));
  g.push(txt(1647, 657, "低圧注入によりダウンカマが\nノズル下端まで満水になると\n破断口から液相が流出する", { size: 8.5, lh: 9.5, fill: "#333" }));
  g.push(...arrow(1703, 672, 1703, 785));
  g.push(txt(1713, 707, "１次冷却系保有水量の回復に伴\nい破断口の液相割合が振動を伴\nいながら増加するため，破断流\n量が振動する", { size: 8, lh: 9.2, fill: "#333" }));
  g.push(txt(1566, 727, "蓄圧注入によりダウンカマが\nノズル下端まで満水になると\n破断口から液相が流出する", { size: 8.5, lh: 9.5, fill: "#333" }));
  g.push(...arrow(1642, 745, 1673, 800));
  g.push(dotted([[1705, 752], [1712, 748], [1740, 743], [1767, 739], [1773, 734], [1779, 739], [1805, 742], [1828, 747], [1832, 753]]));

  return {
    animation: false,
    backgroundColor: "#ffffff",
    grid,
    xAxis,
    yAxis,
    series,
    graphic: { elements: g },
  };
}

export default function App() {
  const ref = useRef<HTMLDivElement>(null);
  useEffect(() => {
    document.body.style.margin = "0";
    document.body.style.background = "#fff";
    if (!ref.current) return;
    const chart = echarts.init(ref.current, null, { renderer: "svg" });
    chart.setOption(buildOption() as any);
    return () => chart.dispose();
  }, []);
  return <div ref={ref} style={{ width: 2036, height: 1246 }} />;
}
